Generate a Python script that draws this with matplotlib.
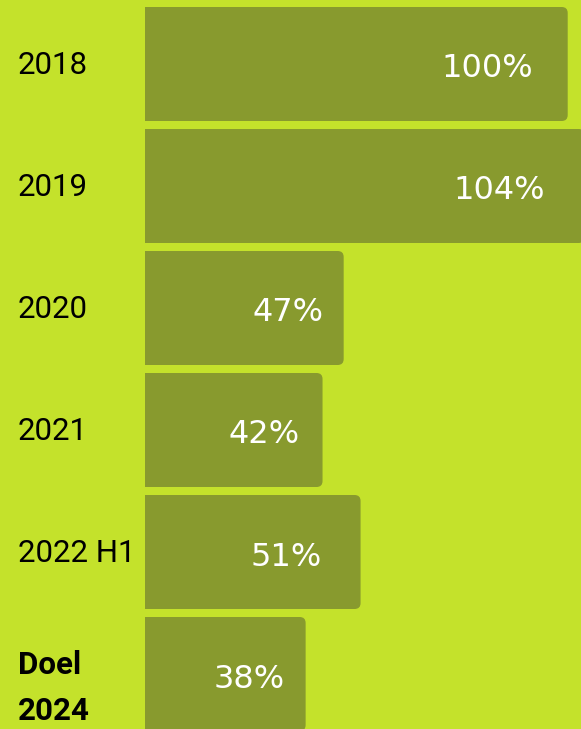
import matplotlib.pyplot as plt
from matplotlib.patches import FancyBboxPatch, Rectangle

# data
categories = ["2018", "2019", "2020", "2021", "2022 H1", "Doel\n2024"]
values = [100, 104, 47, 42, 51, 38]
value_labels = ["100%", "104%", "47%", "42%", "51%", "38%"]

# styling
bg = "#c4e22b"
bar_color = "#889a2e"
label_offsets = [8.3, 9.4, 4.7, 5.4, 9.2, 5.0]  # right edge of label, back from bar end
W, H, DPI = 581, 729, 100
px_x = 4.227  # pixels per percent
px_y = 122.0  # pixels per row

fig = plt.figure(figsize=(W / DPI, H / DPI), dpi=DPI, facecolor=bg)
ax = fig.add_axes([0, 0, 1, 1])
ax.set_facecolor(bg)
ax.set_xlim(-145 / px_x, (W - 145) / px_x)
ax.set_ylim((H - 64) / px_y, -64 / px_y)
ax.axis("off")

ypos = list(range(len(values)))
bars = ax.barh(ypos, values, height=114 / px_y, color=bar_color)

r = 6 / px_x
for b in bars:
    x, y, w, h = b.get_x(), b.get_y(), b.get_width(), b.get_height()
    b.set_visible(False)
    ax.add_patch(FancyBboxPatch((x, y), w, h,
                                boxstyle=f"round,pad=0,rounding_size={r}",
                                mutation_aspect=px_x / px_y,
                                fc=bar_color, ec="none"))
    ax.add_patch(Rectangle((x, y), w / 2, h, fc=bar_color, ec="none"))

for i, (v, lab, off) in enumerate(zip(values, value_labels, label_offsets)):
    ax.text(v - off, i + 5 / px_y, lab, ha="right", va="center",
            color="white", fontsize=23, family="DejaVu Sans")

for i, cat in enumerate(categories):
    bold = cat.startswith("Doel")
    ax.text(-127 / px_x, i + (14 / px_y if bold else 2 / px_y), cat,
            ha="left", va="center", color="black", fontsize=22.5,
            family=["Roboto", "DejaVu Sans"],
            fontweight="bold" if bold else "normal",
            linespacing=1.7 if bold else 1.2)

fig.savefig("out.png", dpi=DPI, facecolor=bg)
